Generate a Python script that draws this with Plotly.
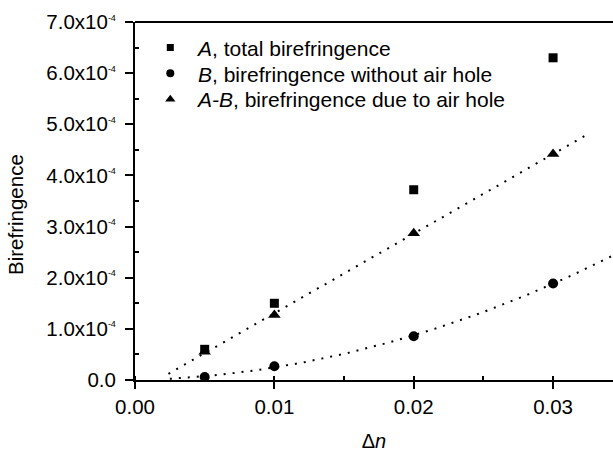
import numpy as np
import plotly.graph_objects as go

# Data
dn = [0.005, 0.01, 0.02, 0.03]
A_total = [0.60e-4, 1.50e-4, 3.72e-4, 6.30e-4]
B_no_hole = [0.06e-4, 0.27e-4, 0.856e-4, 1.887e-4]
AB_hole = [0.55e-4, 1.27e-4, 2.87e-4, 4.42e-4]

y_tickvals = [0, 1e-4, 2e-4, 3e-4, 4e-4, 5e-4, 6e-4, 7e-4]
y_ticktext = ["0.0"] + [f"{v}x10<sup><span style='font-size:9px'>-4</span></sup>"
                        for v in ["1.0", "2.0", "3.0", "4.0", "5.0", "6.0", "7.0"]]
x_tickvals = [0.0, 0.01, 0.02, 0.03]
x_ticktext = ["0.00", "0.01", "0.02", "0.03"]

series_names = ["<i>A</i>, total birefringence",
                "<i>B</i>, birefringence without air hole",
                "<i>A-B</i>, birefringence due to air hole"]

# fitted trend lines (ranges where the dotted fits are drawn)
fit_range_ab = [0.0024, 0.0326]
fit_range_b = [0.0025, 0.0343]

font_family = "Liberation Sans, Arial, sans-serif"

c_ab = np.polyfit(dn, AB_hole, 1)
c_b = np.polyfit(dn, B_no_hole, 2)
xs_ab = np.linspace(fit_range_ab[0], fit_range_ab[1], 60)
xs_b = np.linspace(fit_range_b[0], fit_range_b[1], 80)

fig = go.Figure()
dotline = dict(color="black", width=2, dash="2px,7px")
fig.add_trace(go.Scatter(x=xs_ab, y=np.polyval(c_ab, xs_ab), mode="lines",
                         line=dotline, showlegend=False, hoverinfo="skip"))
fig.add_trace(go.Scatter(x=xs_b, y=np.clip(np.polyval(c_b, xs_b), 0, None), mode="lines",
                         line=dotline, showlegend=False, hoverinfo="skip"))

symbols = ["square", "circle", "triangle-up"]
plot_sizes = [9, 10, 11]
legend_sizes = [7, 8, 9]
legend_ids = ["legend", "legend2", "legend3"]
values = [A_total, B_no_hole, AB_hole]
sp = "\u2006\u2009"
for name, sym, ps, ls, lid, vals in zip(series_names, symbols, plot_sizes, legend_sizes, legend_ids, values):
    fig.add_trace(go.Scatter(x=dn, y=vals, mode="markers", name=name, showlegend=False,
                             marker=dict(symbol=sym, size=ps, color="black")))
    # legend entry (smaller symbol, as in the reference legend)
    fig.add_trace(go.Scatter(x=[None], y=[None], mode="markers", name=sp + name, legend=lid,
                             marker=dict(symbol=sym, size=ls, color="black")))

top, bottom = 22, 382
def row_y(px):
    return 1 - (px - top) / (bottom - top)

leg_common = dict(x=0.032, xanchor="left", yanchor="middle",
                  bgcolor="rgba(0,0,0,0)", font=dict(size=21))

fig.update_layout(
    width=613, height=452,
    margin=dict(l=135, r=0, t=22, b=70),
    paper_bgcolor="white", plot_bgcolor="white",
    font=dict(family=font_family, size=20.5, color="black"),
    showlegend=True,
    legend=dict(y=row_y(48), **leg_common),
    legend2=dict(y=row_y(74), **leg_common),
    legend3=dict(y=row_y(100), **leg_common),
    annotations=[dict(text="Birefringence", xref="paper", yref="paper", x=0, y=0.5,
                      xanchor="center", yanchor="middle", xshift=-120, yshift=-14,
                      textangle=-90, showarrow=False, font=dict(size=20.5))],
    shapes=[dict(type="line", xref="paper", yref="paper", x0=0, x1=1, y0=1, y1=1,
                 line=dict(color="black", width=2))],
)
fig.update_xaxes(
    range=[0, 0.0343], tickvals=x_tickvals, ticktext=x_ticktext,
    showgrid=False, zeroline=False,
    showline=True, linecolor="black", linewidth=2, mirror=False,
    ticks="outside", ticklen=7, tickwidth=2, tickcolor="black",
    minor=dict(dtick=0.005, tick0=0, ticks="inside", ticklen=4, tickwidth=1.5, tickcolor="black"),
    title=dict(text="Δ<i>n</i>", standoff=20, font=dict(size=20)),
)
fig.update_yaxes(
    range=[0, 7e-4], tickvals=y_tickvals, ticktext=y_ticktext,
    showgrid=False, zeroline=False, mirror=False,
    showline=True, linecolor="black", linewidth=2,
    ticks="outside", ticklen=8, tickwidth=2, tickcolor="black", ticklabelstandoff=5,
    minor=dict(tickvals=[0.5e-4, 1.5e-4, 2.5e-4, 3.5e-4, 4.5e-4, 5.5e-4, 6.5e-4],
               ticks="inside", ticklen=4, tickwidth=1.5, tickcolor="black"),
)

fig.write_html("out.html", config={"displayModeBar": False},
               post_script="document.body.style.margin='0';document.body.style.overflow='hidden';")
